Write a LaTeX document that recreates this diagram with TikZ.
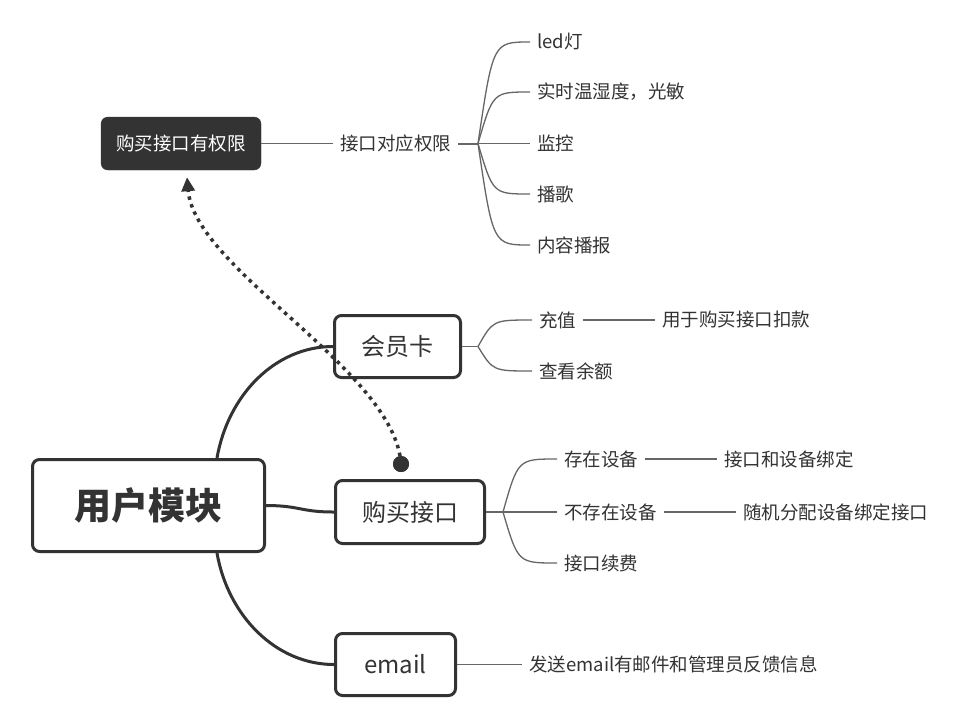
\documentclass[tikz,border=0pt]{standalone}
\usepackage{fontspec}
\newfontfamily\cjk{Noto Sans CJK SC}
\usetikzlibrary{arrows.meta}
\definecolor{ink}{HTML}{333333}
\definecolor{thin}{HTML}{666666}
\begin{document}
\begin{tikzpicture}[x=1pt,y=-1pt,
  every node/.style={text=ink},
  mainbox/.style={draw=ink, line width=3pt, rounded corners=7pt, fill=white, inner sep=0pt, font=\cjk\fontsize{24}{28}\selectfont},
  darkbox/.style={draw=ink, fill=ink, rounded corners=7pt, text=white, inner sep=0pt, minimum width=160pt, minimum height=53pt, font=\cjk\fontsize{18.5}{22}\selectfont},
  leaf/.style={anchor=west, inner xsep=7pt, inner ysep=2pt, font=\cjk\fontsize{18.5}{22}\selectfont},
  thinline/.style={draw=thin, line width=1.3pt},
  thickline/.style={draw=ink, line width=3pt},
  dotline/.style={draw=ink, line width=3.5pt, dash pattern=on 3.5pt off 4.5pt, -{Triangle[length=14pt,width=13pt]}},
  dotstart/.style={circle, fill=ink, minimum size=16pt, inner sep=0pt},
]
\useasboundingbox (0,0) rectangle (968,716);
\fill[white] (0,0) rectangle (968,716);

% main boxes
\node[mainbox, minimum width=232pt, minimum height=92pt, font=\cjk\bfseries\fontsize{37}{42}\selectfont] (root) at (148.5,505.5) {用户模块};
\node[mainbox, minimum width=126pt, minimum height=62pt] (vip) at (397.5,346.5) {会员卡};
\node[mainbox, minimum width=149pt, minimum height=63pt] (buy) at (410,512) {购买接口};
\node[mainbox, minimum width=120pt, minimum height=62pt] (mail) at (395.5,664.5) {email};
\node[darkbox] (perm) at (181,143.5) {购买接口有权限};

% permission branch
\node[leaf] (map) at (333,143.5) {接口对应权限};
\coordinate (mapb) at (478,143.5);
\node[leaf] (l1) at (530,42) {led灯};
\node[leaf] (l2) at (530,92) {实时温湿度，光敏};
\node[leaf] (l3) at (530,143.5) {监控};
\node[leaf] (l4) at (530,194) {播歌};
\node[leaf] (l5) at (530,245) {内容播报};

% vip branch
\coordinate (vipb) at (478,346.5);
\node[leaf] (v1) at (532,320) {充值};
\node[leaf] (v2) at (532,371) {查看余额};
\node[leaf] (v11) at (655,320) {用于购买接口扣款};

% buy branch
\coordinate (buyb) at (503,512);
\node[leaf] (b1) at (557,459) {存在设备};
\node[leaf] (b2) at (557,512) {不存在设备};
\node[leaf] (b3) at (557,563) {接口续费};
\node[leaf] (b11) at (717,459) {接口和设备绑定};
\node[leaf] (b21) at (736,512) {随机分配设备绑定接口};

% email branch
\node[leaf] (m1) at (522,664.5) {发送email有邮件和管理员反馈信息};

% thin connectors
\draw[thinline] (perm.east) -- (map.west);
\draw[thinline, line width=2pt] (map.east) -- (mapb);
\foreach \n in {l1,l2,l3,l4,l5}
  \draw[thinline] (mapb) .. controls ([xshift=15pt]mapb |- \n.west) .. (\n.west);
\draw[thinline] (vip.east) -- (vipb);
\foreach \n in {v1,v2}
  \draw[thinline] (vipb) .. controls ([xshift=15pt]vipb |- \n.west) .. (\n.west);
\draw[thinline] (v1.east) -- (v11.west);
\draw[thinline] (buy.east) -- (buyb);
\foreach \n in {b1,b2,b3}
  \draw[thinline] (buyb) .. controls ([xshift=15pt]buyb |- \n.west) .. (\n.west);
\draw[thinline] (b1.east) -- (b11.west);
\draw[thinline] (b2.east) -- (b21.west);
\draw[thinline] (mail.east) -- (m1.west);

% thick connectors from root
\draw[thickline] ([xshift=-49pt]root.north east) .. controls +(11,-63) and +(-58,0) .. (vip.west);
\draw[thickline] (root.east) .. controls +(34,0) and +(-34,0) .. (buy.west);
\draw[thickline] ([xshift=-49pt]root.south east) .. controls +(11,63) and +(-58,0) .. (mail.west);

% dotted relation
\node[dotstart] (dot) at (401,464) {};
\draw[dotline] (dot.center) .. controls (395,370) and (195,270) .. ([xshift=6pt,yshift=-7pt]perm.south);
\node[dotstart] at (dot.center) {};
\end{tikzpicture}
\end{document}
